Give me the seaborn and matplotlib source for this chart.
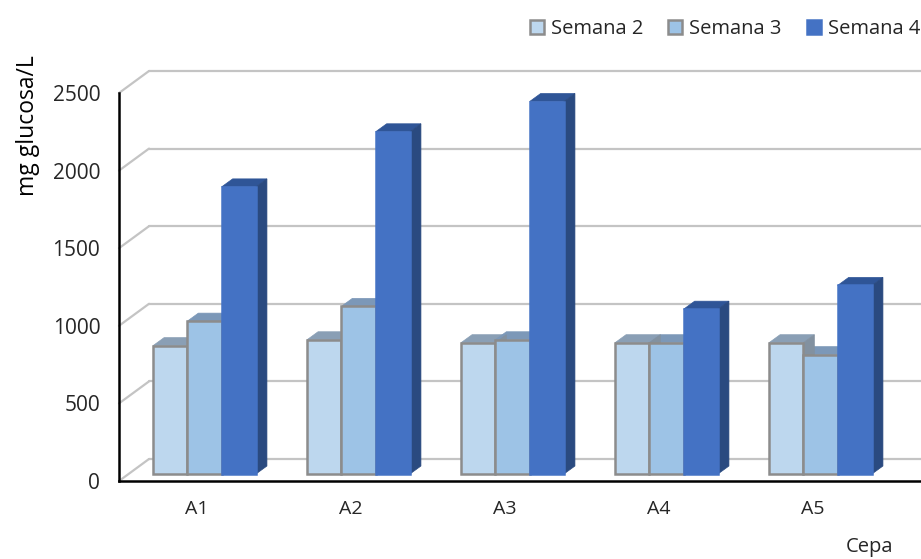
import matplotlib
matplotlib.use("Agg")
import matplotlib.pyplot as plt
from matplotlib.lines import Line2D
from matplotlib.patches import Patch, Polygon
from matplotlib.transforms import ScaledTranslation
import pandas as pd
import seaborn as sns

cepas = ["A1", "A2", "A3", "A4", "A5"]
semana_2 = [827, 865, 846, 846, 846]
semana_3 = [985, 1080, 865, 846, 769]
semana_4 = [1850, 2205, 2400, 1062, 1215]
semanas = ["Semana 2", "Semana 3", "Semana 4"]
yticks = [0, 500, 1000, 1500, 2000, 2500]

cores_frente = ["#BDD7EE", "#9DC3E6", "#4472C4"]
cores_topo = ["#8A9FB5", "#7C98B8", "#2F5597"]
cores_lado = ["#8291A0", "#7C8FA3", "#2A4A80"]
cor_borda = ["#8C8C8C", "#8C8C8C", "#4472C4"]

sns.set_theme(style="white")
plt.rcParams["font.family"] = ["Open Sans", "DejaVu Sans"]

df = pd.DataFrame({"cepa": cepas * 3,
                   "semana": [s for s in semanas for _ in cepas],
                   "valor": semana_2 + semana_3 + semana_4})

fig = plt.figure(figsize=(9.21, 5.59), dpi=100)
W, H = 921, 559
# eixo "da frente" do grafico 3D
ax = fig.add_axes([119 / W, 1 - 481 / H, (921 - 119) / W, (481 - 93) / H])
sns.barplot(data=df, x="cepa", y="valor", hue="semana", palette=cores_frente,
            width=0.668, gap=0, saturation=1, legend=False, ax=ax)
ax.set_xlim((119 - 197) / 154, (921 - 197) / 154)
ax.set_ylim(0, 2500)
ax.set_yticks(yticks)
ax.set_xlabel("")
ax.set_ylabel("mg glucosa/L", fontsize=16.5, color="black", labelpad=0)
ax.yaxis.set_label_coords(-0.099, 0.915)
ax.tick_params(axis="x", labelsize=14, colors="#262626", length=0, pad=14)
ax.tick_params(axis="y", labelsize=15, colors="#262626", length=0, pad=13.5)
sns.despine(ax=ax)
for s in ["left", "bottom"]:
    ax.spines[s].set_color("black")
    ax.spines[s].set_linewidth(1.8)

px = 1 / 100
desloc_barra = ax.transData + ScaledTranslation(7.5 * px, 7 * px, fig.dpi_scale_trans)
desloc_fundo = ax.transData + ScaledTranslation(30 * px, 22 * px, fig.dpi_scale_trans)

# grade na parede de fundo + diagonais na parede esquerda
x_esq = ax.get_xlim()[0]
x_dir = ax.get_xlim()[1]
cor_grade = "#C4C4C4"
for v in yticks:
    ax.add_line(Line2D([x_esq, x_dir], [v, v], color=cor_grade, lw=1.6,
                       transform=desloc_fundo, clip_on=False, zorder=0))
    ax.annotate("", xy=(x_esq, v), xycoords="data",
                xytext=(30, 22), textcoords="offset pixels",
                arrowprops=dict(arrowstyle="-", color=cor_grade, lw=1.6,
                                shrinkA=0, shrinkB=0), zorder=0)

# faces de topo e lado de cada barra (profundidade 11 x 8 px)
prof_x = 11 / 154
prof_y = 8 / (388 / 2500)
for cont, topo, lado, borda in zip(ax.containers, cores_topo, cores_lado, cor_borda):
    for bar in cont:
        x0, x1 = bar.get_x(), bar.get_x() + bar.get_width()
        h = bar.get_height()
        bar.set_transform(desloc_barra)
        bar.set_edgecolor(borda)
        bar.set_linewidth(1.8)
        bar.set_clip_on(False)
        bar.set_zorder(4)
        ax.add_patch(Polygon([(x0, h), (x0 + prof_x, h + prof_y),
                              (x1 + prof_x, h + prof_y), (x1, h)],
                             facecolor=topo, edgecolor=topo, lw=0.5,
                             transform=desloc_barra, clip_on=False, zorder=3))
        ax.add_patch(Polygon([(x1, 0), (x1 + prof_x, prof_y),
                              (x1 + prof_x, h + prof_y), (x1, h)],
                             facecolor=lado, edgecolor=lado, lw=0.5,
                             transform=desloc_barra, clip_on=False, zorder=3.5))

fig.text(869 / W, 1 - 547 / H, "Cepa", fontsize=14.5, color="#262626", ha="center", va="center")

handles = [Patch(facecolor=c, edgecolor=b, lw=1.8) for c, b in zip(cores_frente, cor_borda)]
fig.legend(handles, semanas, loc="center right", bbox_to_anchor=(920 / W, 1 - 29 / H),
           ncol=3, frameon=False, fontsize=14.5, handlelength=0.68, handleheight=0.68,
           columnspacing=1.25, handletextpad=0.35, labelcolor="#262626",
           borderaxespad=0, borderpad=0)

fig.savefig("out.png", dpi=100)
